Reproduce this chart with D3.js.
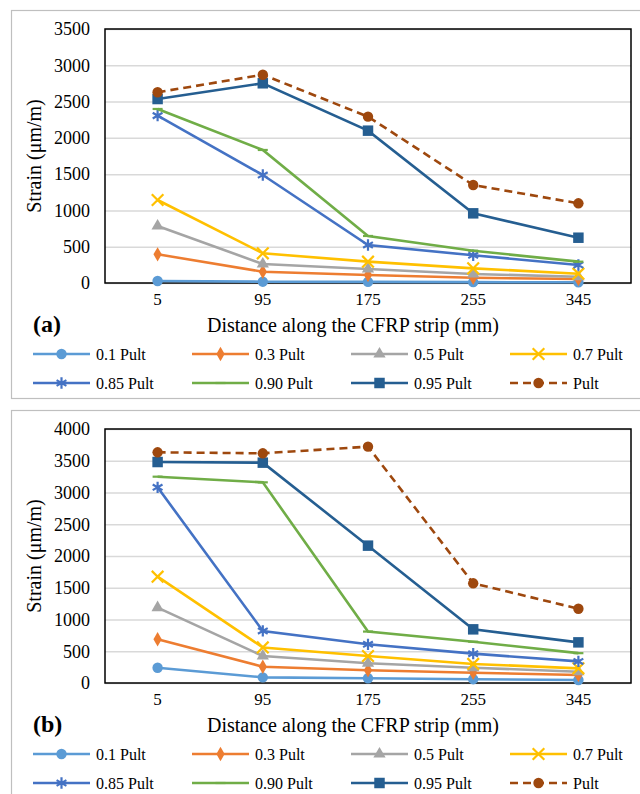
<!DOCTYPE html>
<html>
<head>
<meta charset="utf-8">
<script src="https://cdn.jsdelivr.net/npm/d3@7"></script>
<style>
  body { margin: 0; background: #fff; }
  svg { display: block; }
</style>
</head>
<body>
<svg id="chart" width="640" height="794"></svg>
<script>
// Strain along the CFRP strip, two specimens (a) and (b)

const distances = ["5", "95", "175", "255", "345"];
const seriesNames = ["0.1 Pult", "0.3 Pult", "0.5 Pult", "0.7 Pult",
  "0.85 Pult", "0.90 Pult", "0.95 Pult", "Pult"];
const seriesColors = ["#5b9bd5", "#ed7d31", "#a5a5a5", "#ffc000",
  "#4472c4", "#70ad47", "#255e91", "#9e480e"];
const seriesMarkers = ["circle", "diamond", "triangle", "times",
  "asterisk", "dash", "square", "circle"];

// Panel (a), one row per load level
const strainA = [
  [28, 18, 15, 12, 10],
  [395, 156, 110, 72, 55],
  [785, 262, 193, 124, 87],
  [1144, 409, 294, 202, 128],
  [2306, 1488, 524, 382, 248],
  [2398, 1833, 648, 445, 294],
  [2535, 2752, 2099, 960, 624],
  [2628, 2870, 2292, 1350, 1098]
];
// Panel (b)
const strainB = [
  [240, 89, 74, 60, 47],
  [688, 257, 200, 162, 126],
  [1186, 425, 310, 241, 178],
  [1674, 560, 425, 300, 231],
  [3082, 820, 609, 462, 340],
  [3249, 3160, 810, 650, 470],
  [3480, 3470, 2163, 845, 640],
  [3633, 3617, 3722, 1570, 1170]
];
const yTicksA = [0, 500, 1000, 1500, 2000, 2500, 3000, 3500];
const yTicksB = [0, 500, 1000, 1500, 2000, 2500, 3000, 3500, 4000];

const FONT = "'Liberation Serif', 'DejaVu Serif', 'Times New Roman', Times, serif";

const svg = d3.select("#chart").style("font-family", FONT);

function markerPath(kind) {
  // d3 symbols for each marker type
  if (kind === "circle") return d3.symbol(d3.symbolCircle, 85)();
  if (kind === "diamond") return d3.symbol(d3.symbolDiamond, 60)();
  if (kind === "triangle") return d3.symbol(d3.symbolTriangle, 65)();
  if (kind === "square") return d3.symbol(d3.symbolSquare, 110)();
  if (kind === "times") return d3.symbol(d3.symbolTimes, 90)();
  if (kind === "asterisk") return d3.symbol(d3.symbolAsterisk, 90)();
  return "M-5,0L5,0";
}

function drawMarker(g, kind, color, x, y) {
  let stroked = (kind === "times" || kind === "asterisk" || kind === "dash");
  g.append("path")
    .attr("d", markerPath(kind))
    .attr("transform", `translate(${x},${y})`)
    .attr("fill", stroked ? "none" : color)
    .attr("stroke", stroked ? color : "none")
    .attr("stroke-width", 2.2);
}

function drawPanel(top, data, yMax, yTicks, label) {
  let g = svg.append("g").attr("transform", `translate(0,${top})`);

  // Outer frame of the panel
  g.append("rect")
    .attr("x", 11.5).attr("y", 0.5)
    .attr("width", 640).attr("height", 388)
    .attr("fill", "#fff")
    .attr("stroke", "#bfbfbf")
    .attr("stroke-width", 1.2);

  let plot = {left: 105, right: 631, top: 19, bottom: 273};

  let xScale = d3.scaleBand()
    .domain(distances)
    .range([plot.left, plot.right]);
  let yScale = d3.scaleLinear()
    .domain([0, yMax])
    .range([plot.bottom, plot.top]);

  // Grid lines
  let yGrid = d3.axisLeft(yScale)
    .tickValues(yTicks)
    .tickFormat("")
    .tickSize(-(plot.right - plot.left));
  g.append("g")
    .attr("transform", `translate(${plot.left},0)`)
    .call(yGrid)
    .call(a => a.select(".domain").remove())
    .call(a => a.selectAll("line").attr("stroke", "#d9d9d9").attr("stroke-width", 1.5));

  // Y tick labels
  let yAxis = d3.axisLeft(yScale)
    .tickValues(yTicks)
    .tickFormat(d3.format("d"))
    .tickSize(0)
    .tickPadding(15);
  g.append("g")
    .attr("transform", `translate(${plot.left},0)`)
    .call(yAxis)
    .attr("font-family", null)
    .attr("font-size", null)
    .call(a => a.select(".domain").remove())
    .call(a => a.selectAll("text")
      .style("font-size", "18px").attr("fill", "#000"));

  // X tick labels
  let xAxis = d3.axisBottom(xScale).tickSize(0).tickPadding(10);
  g.append("g")
    .attr("transform", `translate(0,${plot.bottom})`)
    .call(xAxis)
    .attr("font-family", null)
    .attr("font-size", null)
    .call(a => a.select(".domain").remove())
    .call(a => a.selectAll("text")
      .style("font-size", "17px").attr("fill", "#000"));

  // Plot frame
  g.append("rect")
    .attr("x", plot.left).attr("y", plot.top)
    .attr("width", plot.right - plot.left)
    .attr("height", plot.bottom - plot.top)
    .attr("fill", "none")
    .attr("stroke", "#000")
    .attr("stroke-width", 1.5);

  // Series lines and markers
  let line = d3.line()
    .x((d, i) => xScale(distances[i]) + xScale.bandwidth() / 2)
    .y(d => yScale(d));
  data.forEach((values, s) => {
    g.append("path")
      .datum(values)
      .attr("d", line)
      .attr("fill", "none")
      .attr("stroke", seriesColors[s])
      .attr("stroke-width", 2.6)
      .attr("stroke-dasharray", seriesNames[s] === "Pult" ? "8,5" : null);
    values.forEach((v, i) => {
      drawMarker(g, seriesMarkers[s], seriesColors[s],
        xScale(distances[i]) + xScale.bandwidth() / 2, yScale(v));
    });
  });

  // Axis titles
  g.append("text")
    .attr("transform", `translate(41,${(plot.top + plot.bottom) / 2}) rotate(-90)`)
    .attr("text-anchor", "middle")
    .style("font-size", "20px")
    .text("Strain (μm/m)");
  g.append("text")
    .attr("x", (plot.left + plot.right) / 2 - 15)
    .attr("y", 322)
    .attr("text-anchor", "middle")
    .style("font-size", "20px")
    .text("Distance along the CFRP strip (mm)");
  g.append("text")
    .attr("x", 33).attr("y", 322)
    .style("font-size", "24px")
    .style("font-weight", "bold")
    .text(label);

  // Legend, two rows of four
  seriesNames.forEach((name, s) => {
    let col = s % 4, row = Math.floor(s / 4);
    let lx = 33 + col * 159, ly = 344 + row * 29;
    let lg = g.append("g");
    lg.append("line")
      .attr("x1", lx).attr("x2", lx + 57)
      .attr("y1", ly).attr("y2", ly)
      .attr("stroke", seriesColors[s])
      .attr("stroke-width", 2.6)
      .attr("stroke-dasharray", name === "Pult" ? "8,5" : null);
    drawMarker(lg, seriesMarkers[s], seriesColors[s], lx + 28.5, ly);
    lg.append("text")
      .attr("x", lx + 63).attr("y", ly + 6)
      .style("font-size", "16px")
      .text(name);
  });
}

drawPanel(10, strainA, 3500, yTicksA, "(a)");
drawPanel(410, strainB, 4000, yTicksB, "(b)");
</script>
</body>
</html>
